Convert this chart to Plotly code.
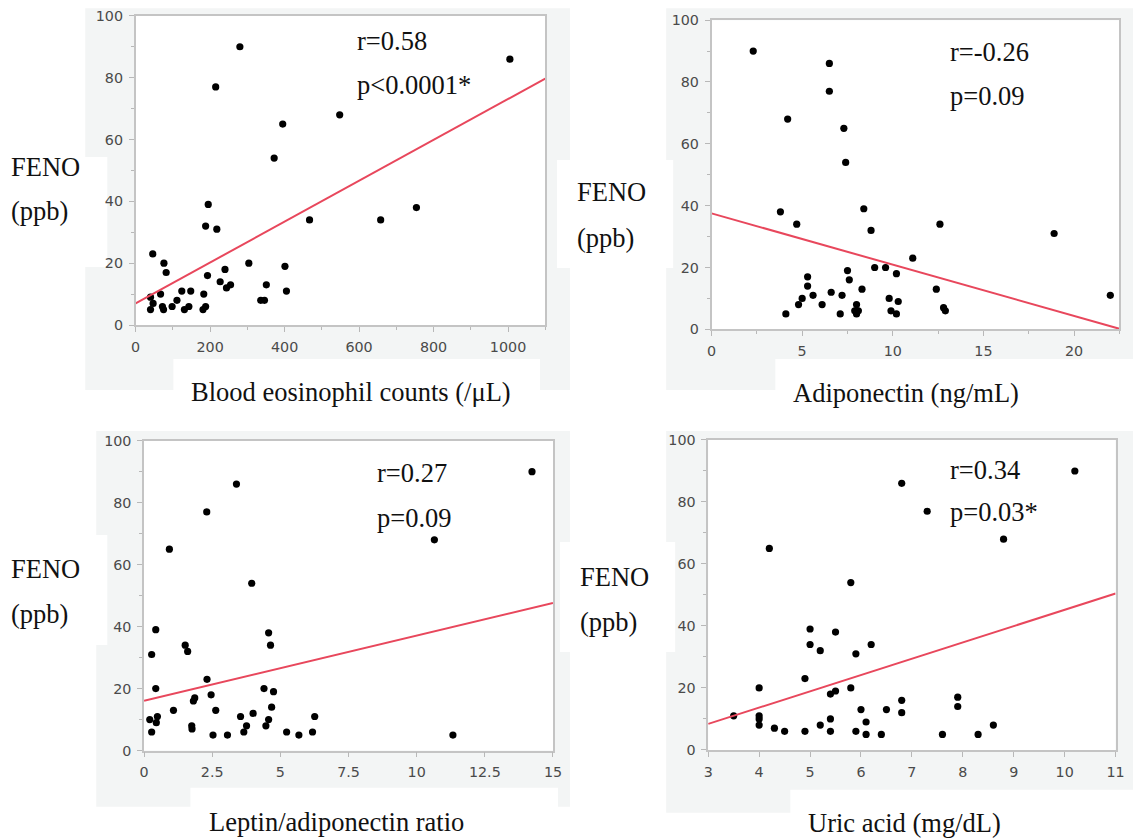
import plotly.graph_objects as go

W, H = 1133, 838
# the page puts the figure 8px in and the capture is fitted back to 1133x838,
# so target (reference) pixels are mapped to figure pixels with these factors
OFF = 8
KX = (W + 2 * OFF) / W
KY = (H + 2 * OFF) / H

# ---------------- data ----------------
eos_x = [280, 1005, 215, 548, 395, 372, 195, 754, 467, 658, 188, 218, 46, 76, 304, 401, 240, 82, 193, 227,
         351, 255, 244, 124, 148, 405, 67, 183, 40, 111, 336, 346, 47, 72, 75, 98, 143, 188, 40, 131, 181]
eos_y = [90, 86, 77, 68, 65, 54, 39, 38, 34, 34, 32, 31, 23, 20, 20, 19, 18, 17, 16, 14,
         13, 13, 12, 11, 11, 11, 10, 10, 9, 8, 8, 8, 7, 6, 5, 6, 6, 6, 5, 5, 5]

adi_x = [2.3, 6.5, 6.5, 4.2, 7.3, 7.4, 3.8, 8.4, 4.7, 12.6, 8.8, 18.9, 11.1, 9.0, 9.6, 7.5, 10.2, 5.3, 7.6, 5.3,
         8.3, 12.4, 6.6, 5.6, 7.2, 22.0, 5.0, 9.8, 10.3, 4.8, 6.1, 8.0, 12.8, 7.9, 8.1, 9.9, 12.9, 4.1, 7.1, 8.0, 10.2]
adi_y = [90, 86, 77, 68, 65, 54, 38, 39, 34, 34, 32, 31, 23, 20, 20, 19, 18, 17, 16, 14,
         13, 13, 12, 11, 11, 11, 10, 10, 9, 8, 8, 8, 7, 6, 6, 6, 6, 5, 5, 5, 5]

lar_x = [14.23, 3.39, 2.30, 10.65, 0.93, 3.95, 0.43, 4.57, 1.51, 1.60, 4.64, 0.28, 2.31, 0.43, 4.40, 4.75, 2.46,
         1.86, 1.81, 4.68, 1.08, 2.63, 4.00, 0.49, 3.54, 6.26, 0.21, 4.57, 0.45, 1.75, 3.76, 4.47, 1.76, 0.28,
         3.66, 5.23, 6.18, 2.53, 3.06, 5.68, 11.33]
lar_y = [90, 86, 77, 68, 65, 54, 39, 38, 34, 32, 34, 31, 23, 20, 20, 19, 18, 17, 16, 14, 13, 13, 12, 11, 11, 11,
         10, 10, 9, 8, 8, 8, 7, 6, 6, 6, 6, 5, 5, 5, 5]

uric_x = [10.2, 6.8, 7.3, 8.8, 4.2, 5.8, 5.0, 5.5, 5.0, 6.2, 5.2, 5.9, 4.9, 4.0, 5.8, 5.5, 5.4, 7.9, 6.8, 7.9,
          6.0, 6.5, 6.8, 3.5, 4.0, 4.0, 4.0, 5.4, 6.1, 8.6, 5.2, 4.3, 4.5, 4.9, 5.4, 5.9, 6.1, 6.4, 7.6, 8.3]
uric_y = [90, 86, 77, 68, 65, 54, 39, 38, 34, 34, 32, 31, 23, 20, 20, 19, 18, 17, 16, 14,
          13, 13, 12, 11, 11, 10, 8, 10, 9, 8, 8, 7, 6, 6, 6, 6, 5, 5, 5, 5]

# regression lines (intercept, slope)
fit_intercept = [7.0, 37.5, 16.1, -7.4]
fit_slope = [0.0661, -1.658, 2.10, 5.26]

x_ranges = [[0, 1100], [0, 22.5], [0, 15], [3, 11]]
x_dticks = [200, 5, 2.5, 1]
x_minor = [100, 2.5, None, None]
x_titles = ["Blood eosinophil counts (/\u03bcL)", "Adiponectin (ng/mL)",
            "Leptin/adiponectin ratio", "Uric acid (mg/dL)"]
r_texts = ["r=0.58", "r=-0.26", "r=0.27", "r=0.34"]
p_texts = ["p<0.0001*", "p=0.09", "p=0.09", "p=0.03*"]
y_label = ["FENO", "(ppb)"]

# ---------------- layout helpers (target pixel -> paper) ----------------
def px(x):
    return (x * KX - OFF) / W

def py(y):
    return 1 - (y * KY - OFF) / H

# plot areas in target pixels: (left, top, right, bottom)
areas = [(138.3, 15.7, 547.3, 325.0),
         (713.3, 20.0, 1120.5, 329.3),
         (146.7, 440.7, 555.0, 750.7),
         (710.0, 440.0, 1116.7, 750.0)]

xs = [eos_x, adi_x, lar_x, uric_x]
ys = [eos_y, adi_y, lar_y, uric_y]

fig = go.Figure()
GREY = "#f3f5f5"
shapes = []

def rect(x0, y0, x1, y1, color):
    shapes.append(dict(type="rect", xref="paper", yref="paper", x0=px(x0), x1=px(x1),
                       y0=py(y1), y1=py(y0), fillcolor=color, line=dict(width=0), layer="below"))

# grey panel backgrounds
rect(88, 8, 572, 390, GREY)
rect(668, 8, 1140, 390, GREY)
rect(99, 431, 572, 807, GREY)
rect(668, 431, 1140, 813, GREY)
# white cut-outs
rect(-10, 157, 110, 267, "white")
rect(176, 359, 542, 420, "white")
rect(559, 160, 675, 268, "white")
rect(777, 359, 1140, 420, "white")
rect(-10, 535, 110, 645, "white")
rect(562, 542, 677, 652, "white")
rect(193, 788, 560, 850, "white")
rect(792, 790, 1140, 850, "white")
for (l, t, r, b) in areas:
    rect(l, t, r, b, "white")

tick_font = dict(family="DejaVu Sans", size=14.3, color="#4a4a4a")
serif = dict(family="Liberation Serif", size=26.5, color="#111111")

layout_axes = {}
for i in range(4):
    n = "" if i == 0 else str(i + 1)
    l, t, r, b = areas[i]
    fig.add_trace(go.Scatter(x=xs[i], y=ys[i], mode="markers",
                             marker=dict(color="black", size=7.2),
                             xaxis="x" + n, yaxis="y" + n, showlegend=False))
    x0, x1 = x_ranges[i]
    fig.add_trace(go.Scatter(x=[x0, x1],
                             y=[fit_intercept[i] + fit_slope[i] * x0, fit_intercept[i] + fit_slope[i] * x1],
                             mode="lines", line=dict(color="#e8475c", width=2),
                             xaxis="x" + n, yaxis="y" + n, showlegend=False))
    xa = dict(domain=[px(l), px(r)], range=x_ranges[i], dtick=x_dticks[i], tick0=x0,
              anchor="y" + n, showgrid=False, zeroline=False, showline=True,
              linecolor="#c4c4c4", linewidth=1.5, mirror=True,
              ticks="outside", ticklen=5, tickcolor="#b8b8b8", tickwidth=1,
              ticklabelstandoff=3, tickfont=tick_font, fixedrange=True)
    if x_minor[i]:
        xa["minor"] = dict(dtick=x_minor[i], ticklen=3, tickcolor="#b8b8b8", ticks="outside", showgrid=False)
    ya = dict(domain=[py(b), py(t)], range=[0, 100], dtick=20, anchor="x" + n,
              showgrid=False, zeroline=False, showline=True,
              linecolor="#c4c4c4", linewidth=1.5, mirror=True,
              ticks="outside", ticklen=5, tickcolor="#b8b8b8", tickwidth=1,
              ticklabelstandoff=3, tickfont=tick_font, fixedrange=True,
              minor=dict(dtick=10, ticklen=3, tickcolor="#b8b8b8", ticks="outside", showgrid=False))
    layout_axes["xaxis" + n] = xa
    layout_axes["yaxis" + n] = ya

ann = []
def text(x, y, s, anchor="left"):
    ann.append(dict(x=px(x), y=py(y), xref="paper", yref="paper", text=s, showarrow=False,
                    xanchor=anchor, yanchor="middle", font=serif))

# correlation texts
text_pos = [(357, 41, 85), (949, 52, 96), (377, 473, 518), (949, 470, 512)]
for i, (x, yr, yp) in enumerate(text_pos):
    text(x, yr, r_texts[i])
    text(x, yp, p_texts[i])

# FENO labels
feno_pos = [(12, 167, 211), (577, 192, 238), (12, 569, 614), (580, 577, 622)]
for (x, y1, y2) in feno_pos:
    text(x, y1, y_label[0])
    text(x, y2, y_label[1])

# x titles
title_pos = [(353, 392), (907, 393), (339, 822), (906, 823)]
for i, (x, y) in enumerate(title_pos):
    text(x, y, x_titles[i], anchor="center")

fig.update_layout(width=W, height=H, margin=dict(l=0, r=0, t=0, b=0),
                  paper_bgcolor="white", plot_bgcolor="white",
                  shapes=shapes, annotations=ann, **layout_axes)

fig.write_html("out.html", config={"displayModeBar": False})
